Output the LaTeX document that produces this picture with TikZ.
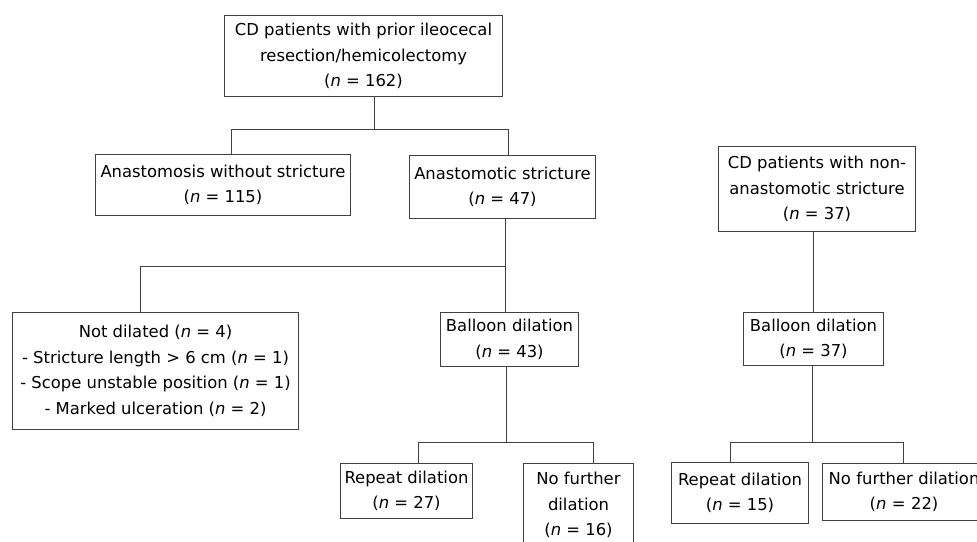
\documentclass[tikz,border=0pt]{standalone}
\usepackage{fontspec}
\setmainfont{DejaVu Sans}
\begin{document}
\begin{tikzpicture}[x=1pt,y=-1pt,
  box/.style={draw=black!75, line width=1pt, align=center, inner sep=0pt, anchor=north west,
    font=\fontsize{16.4}{25.5}\selectfont},
  conn/.style={draw=black!75, line width=1pt}]
\useasboundingbox (0,0) rectangle (977,541);
\fill[white] (0,0) rectangle (977,541);
% boxes
\node[box, minimum width=278pt, minimum height=81pt] (top) at (224,15)
  {CD patients with prior ileocecal\\resection/hemicolectomy\\(\textit{n} = 162)};
\node[box, minimum width=255pt, minimum height=61pt] (anw) at (95,154)
  {Anastomosis without stricture\\(\textit{n} = 115)};
\node[box, minimum width=186pt, minimum height=63pt] (ans) at (409,155)
  {Anastomotic stricture\\(\textit{n} = 47)};
\node[box, minimum width=286pt, minimum height=117pt] (nd) at (12,312)
  {Not dilated (\textit{n} = 4)\\- Stricture length > 6 cm (\textit{n} = 1)\\- Scope unstable position (\textit{n} = 1)\\- Marked ulceration (\textit{n} = 2)};
\node[box, minimum width=138pt, minimum height=54pt] (bd1) at (440,312)
  {Balloon dilation\\(\textit{n} = 43)};
\node[box, minimum width=132pt, minimum height=55pt] (rd1) at (340,463)
  {Repeat dilation\\(\textit{n} = 27)};
\node[box, minimum width=110pt, minimum height=83pt] (nf1) at (523,463)
  {No further\\dilation\\(\textit{n} = 16)};
\node[box, minimum width=197pt, minimum height=85pt] (ncd) at (718,146)
  {CD patients with non-\\anastomotic stricture\\(\textit{n} = 37)};
\node[box, minimum width=140pt, minimum height=53pt] (bd2) at (743,312)
  {Balloon dilation\\(\textit{n} = 37)};
\node[box, minimum width=137pt, minimum height=61pt] (rd2) at (671,462)
  {Repeat dilation\\(\textit{n} = 15)};
\node[box, minimum width=163pt, minimum height=57pt, text width=160pt] (nf2) at (822,463)
  {No further dilation\\(\textit{n} = 22)};
% junctions
\coordinate (j1) at (374,129);
\coordinate (j1L) at (231,129);
\coordinate (j1R) at (508,129);
\coordinate (j2) at (505,266);
\coordinate (j2L) at (140,266);
\coordinate (j3) at (506,442);
\coordinate (j3L) at (418,442);
\coordinate (j3R) at (593,442);
\coordinate (j4) at (812,442);
\coordinate (j4L) at (730,442);
\coordinate (j4R) at (903,442);
% connectors
\draw[conn] (top.south -| j1) -- (j1);
\draw[conn] (anw.north -| j1L) -- (j1L) -- (j1R) -- (ans.north -| j1R);
\draw[conn] (ans.south -| j2) -- (bd1.north -| j2);
\draw[conn] (nd.north -| j2L) -- (j2L) -- (j2);
\draw[conn] (bd1.south -| j3) -- (j3);
\draw[conn] (rd1.north -| j3L) -- (j3L) -- (j3R) -- (nf1.north -| j3R);
\draw[conn] (ncd.south -| bd2.north) -- (bd2.north);
\draw[conn] (bd2.south -| j4) -- (j4);
\draw[conn] (rd2.north -| j4L) -- (j4L) -- (j4R) -- (nf2.north -| j4R);
\end{tikzpicture}
\end{document}
